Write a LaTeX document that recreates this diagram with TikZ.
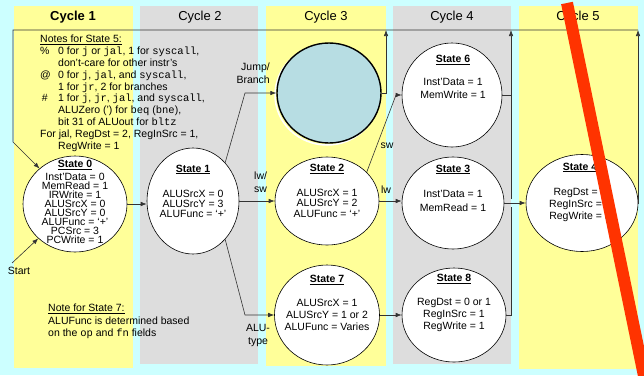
\documentclass[tikz,border=0pt]{standalone}
\usepackage{fontspec}
\setmainfont{Liberation Sans}
\setmonofont{Liberation Mono}
\usetikzlibrary{shapes.geometric,arrows.meta}

\definecolor{bgcyan}{HTML}{CCFFFF}
\definecolor{colyellow}{HTML}{FFFF99}
\definecolor{colgray}{HTML}{DDDDDD}
\definecolor{stblue}{HTML}{B7DDE3}
\definecolor{redmark}{HTML}{FF3300}

\newcommand{\sfont}[1]{\fontsize{10.5}{#1}\selectfont}
\newcommand{\stitle}[1]{\underline{\textbf{#1}}}

\tikzset{
  state/.style={ellipse, draw=black, fill=white, inner sep=0pt, line width=0.6pt},
  stext/.style={align=center, inner sep=0pt},
  hdr/.style={font=\fontsize{13}{15}\selectfont},
  lbl/.style={font=\fontsize{10.5}{13}\selectfont, inner sep=0pt},
  wire/.style={draw=black!80, line width=0.6pt},
  arr/.style={wire, -{Latex[length=6pt,width=4.5pt]}},
}

\begin{document}
\begin{tikzpicture}[x=1pt,y=-1pt]
	\useasboundingbox (0,0) rectangle (644,375);
	\fill[bgcyan] (0,0) rectangle (644,375);
	% cycle columns
	\fill[colyellow] (14,6) rectangle (133,368);
	\fill[colgray] (140,6) rectangle (258,364);
	\fill[colyellow] (266,6) rectangle (386,366);
	\fill[colgray] (393,6) rectangle (511,364);
	\fill[colyellow] (519,6) rectangle (638,369);

	\node[hdr] (h1) at (73,17) {\bfseries Cycle 1};
	\node[hdr] (h2) at (200,17) {Cycle 2};
	\node[hdr] (h3) at (326,17) {Cycle 3};
	\node[hdr] (h4) at (452,17) {Cycle 4};
	\node[hdr] (h5) at (578,17) {Cycle 5};

	% states
	\node[state, minimum width=104pt, minimum height=96pt] (s0) at (75,204) {};
	\node[state, minimum width=92pt, minimum height=106pt] (s1) at (193,201) {};
	\draw[white, line width=1.5pt] (327,95) ellipse [x radius=52, y radius=50];
	\node[state, fill=stblue, line width=1.4pt, minimum width=104pt, minimum height=100pt] (s5) at (329,93) {};
	\node[state, minimum width=104pt, minimum height=88pt] (s2) at (327,201) {};
	\node[state, minimum width=105pt, minimum height=100pt] (s7) at (327,315) {};
	\node[state, minimum width=100pt, minimum height=104pt] (s6) at (452,95) {};
	\node[state, minimum width=102pt, minimum height=92pt] (s3) at (453,203) {};
	\node[state, minimum width=104pt, minimum height=94pt] (s8) at (454,315) {};
	\node[state, minimum width=112pt, minimum height=97pt] (s4) at (582,203) {};

	\node[stext, font=\sfont{9}] (t0) at (75,202) {\stitle{State 0}\\[3pt] Inst'Data = 0\\ MemRead = 1\\ IRWrite = 1\\ ALUSrcX = 0\\ ALUSrcY = 0\\ ALUFunc = `+'\\ PCSrc = 3\\ PCWrite = 1};
	\node[stext, font=\sfont{10}] (t1) at (193,191) {\stitle{State 1}\\[15pt] ALUSrcX = 0\\ ALUSrcY = 3\\ ALUFunc = `+'};
	\node[stext, font=\sfont{10.5}] (t2) at (327,191) {\stitle{State 2}\\[14pt] ALUSrcX = 1\\ ALUSrcY = 2\\ ALUFunc = `+'};
	\node[stext, font=\sfont{12}] (t7) at (327,303) {\stitle{State 7}\\[12pt] ALUSrcX = 1\\ ALUSrcY = 1 or 2\\ ALUFunc = Varies};
	\node[stext, font=\sfont{13}] (t6) at (453,77) {\stitle{State 6}\\[10pt] Inst'Data = 1\\ MemWrite = 1};
	\node[stext, font=\sfont{14}] (t3) at (453,188) {\stitle{State 3}\\[11pt] Inst'Data = 1\\ MemRead = 1};
	\node[stext, font=\sfont{12}] (t8) at (454,303) {\stitle{State 8}\\[12pt] RegDst = 0 or 1\\ RegInSrc = 1\\ RegWrite = 1};
	\node[stext, font=\sfont{12}] (t4) at (580,192) {\stitle{State 4}\\[13pt] RegDst = 0\\ RegInSrc = 1\\ RegWrite = 1};

	% notes
	\node[anchor=north west, align=left, inner sep=0pt, font=\fontsize{10.5}{11.8}\selectfont] (notes) at (40,35) {%
		\underline{Notes for State 5:}\\
		\makebox[18pt][l]{\%}0 for \texttt{j} or \texttt{jal}, 1 for \texttt{syscall},\\
		\hspace*{18pt}don't-care for other instr's\\
		\makebox[18pt][l]{@}0 for \texttt{j}, \texttt{jal}, and \texttt{syscall},\\
		\hspace*{18pt}1 for \texttt{jr}, 2 for branches\\
		\makebox[18pt][l]{\,\#}1 for \texttt{j}, \texttt{jr}, \texttt{jal}, and \texttt{syscall},\\
		\hspace*{18pt}ALUZero (') for \texttt{beq} (\texttt{bne}),\\
		\hspace*{18pt}bit 31 of ALUout for \texttt{bltz}\\
		For jal, RegDst = 2, RegInSrc = 1,\\
		\hspace*{18pt}RegWrite = 1};
	\node[anchor=north west, align=left, inner sep=0pt, font=\fontsize{10.5}{12.5}\selectfont] (note7) at (48,304) {%
		\underline{Note for State 7:}\\
		ALUFunc is determined based\\
		on the \texttt{op} and \texttt{fn} fields};

	% labels
	\node[lbl, align=right, anchor=east] (ljb) at (270,73) {Jump/\\Branch};
	\node[lbl, align=left, anchor=west] (llsw) at (254,182) {lw/\\sw};
	\node[lbl, align=center] (lalu) at (258,335) {ALU-\\type};
	\node[lbl] (lsw) at (387,146) {sw};
	\node[lbl] (llw) at (386,190) {lw};
	\node[lbl] (start) at (19,271) {Start};

	% connectors
	\coordinate (jb) at (245,93);
	\coordinate (aluc) at (245,315);
	\coordinate (swc) at (396,95);
	\coordinate (r3) at (386,30);
	\coordinate (r4) at (511,30);
	\coordinate (r5) at (638,30);
	\coordinate (tl) at (13,30);
	\coordinate (lb) at (13,142);

	\draw[arr] (s0.east) -- (s0.east -| s1.west);
	\draw[arr] (s1.50) -- (jb) -- (s5.west);
	\draw[arr] (s1.east) -- (s1.east -| s2.west);
	\draw[arr] (s1.-50) -- (aluc) -- (s7.west);
	\draw[arr] (s2.36) -- (swc) -- (s6.west);
	\draw[arr] (s2.east) -- (s2.east -| s3.west);
	\draw[arr] (s7.east) -- (s8.west);
	\draw[arr] (s3.east) -- (s3.east -| s4.west);

	\draw[wire] (s6.east) -- (s6.east -| r4);
	\draw[wire] (s8.east) -- (s8.east -| r4) -- ([yshift=-4pt]s3.east -| r4);
	\draw[arr] ([yshift=4pt]s3.east -| r4) -- (r4);
	\draw[arr] (s5.east) -- (s5.east -| r3) -- (r3);
	\draw[arr] (s4.east) -- (s4.east -| r5) -- (r5);
	\draw[arr] (r5) -- (tl) -- (lb) -- (s0);
	\draw[arr, shorten <=6pt] (start.north west) -- (s0);

	% strike
	\draw[redmark, line width=12pt] (567,3) -- (644,376);
\end{tikzpicture}
\end{document}
